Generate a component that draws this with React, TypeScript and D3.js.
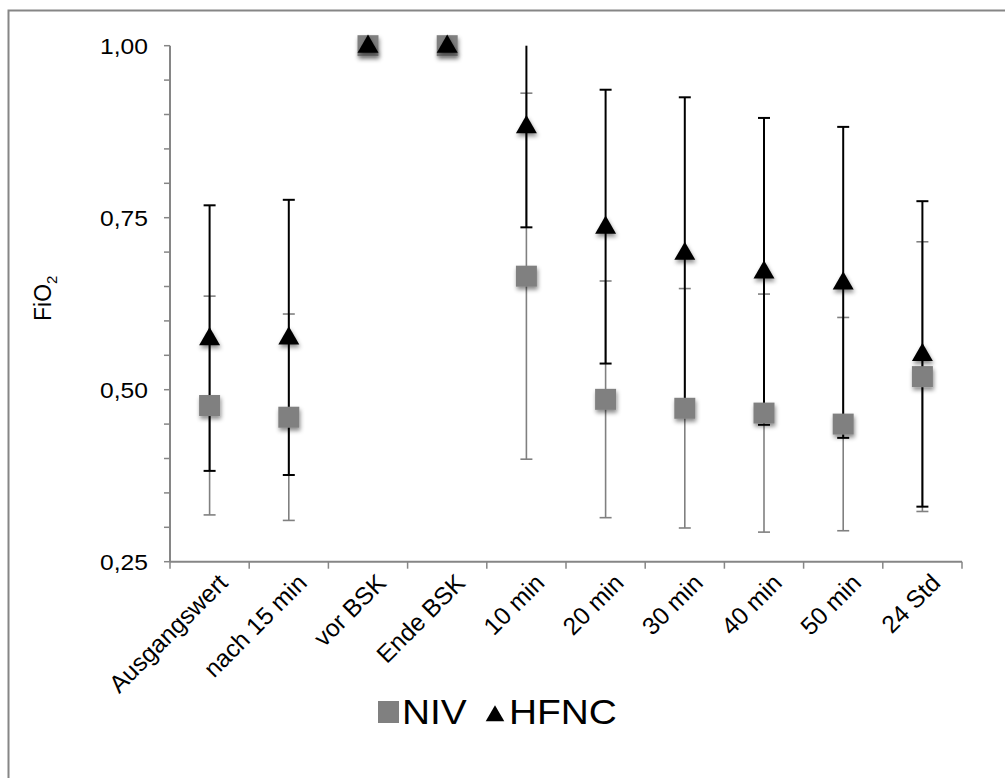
import React from "react";
import * as d3 from "d3";

const categories = [
  "Ausgangswert",
  "nach 15 min",
  "vor BSK",
  "Ende BSK",
  "10 min",
  "20 min",
  "30 min",
  "40 min",
  "50 min",
  "24 Std",
];
const nivMean = [0.477, 0.46, 1.0, 1.0, 0.665, 0.486, 0.473, 0.466, 0.45, 0.519];
const nivSd = [0.159, 0.15, 0, 0, 0.266, 0.172, 0.174, 0.173, 0.155, 0.196];
const hfncMean = [0.575, 0.576, 1.0, 1.0, 0.883, 0.737, 0.699, 0.672, 0.656, 0.552];
const hfncSd = [0.193, 0.2, 0, 0, 0.147, 0.199, 0.226, 0.223, 0.226, 0.222];
const yLabelTicks = [0.25, 0.5, 0.75, 1.0];

const W = 1005;
const H = 778;
const FONT = "'Liberation Sans', Arial, Helvetica, sans-serif";
const AXIS = "#868686";
const GREY = "#808080";

const x = d3.scaleBand<string>().domain(categories).range([170, 962]).padding(0);
const y = d3.scaleLinear().domain([0.25, 1]).range([561.7, 45.7]);
const minorTicks = d3.range(0.25, 1.0001, 0.05);
const fmt = (v: number) => d3.format(".2f")(v).replace(".", ",");

const tri = d3.symbol().type(d3.symbolTriangle).size(190);

// error bar, clipped to axis range (no cap when clipped)
const ErrBar = ({ cx, m, sd, color, w }: any) => {
  if (!sd) return null;
  const [lo, hi] = y.domain();
  const top = Math.min(m + sd, hi);
  const bot = Math.max(m - sd, lo);
  return (
    <g stroke={color} strokeWidth={w}>
      <line x1={cx} x2={cx} y1={y(top)} y2={y(bot)} />
      {m + sd <= hi && <line x1={cx - 6} x2={cx + 6} y1={y(top)} y2={y(top)} />}
      {m - sd >= lo && <line x1={cx - 6} x2={cx + 6} y1={y(bot)} y2={y(bot)} />}
    </g>
  );
};

export default function App() {
  const cx = (i: number) => (x(categories[i]) as number) + x.bandwidth() / 2;

  return (
    <svg
      width={W}
      height={H}
      style={{ position: "absolute", left: 0, top: 0, background: "#fff" }}
      fontFamily={FONT}
    >
      <defs>
        <filter id="shadow" x="-50%" y="-50%" width="200%" height="200%">
          <feDropShadow dx="1" dy="3" stdDeviation="2" floodColor="#000" floodOpacity="0.45" />
        </filter>
      </defs>

      {/* outer frame */}
      <rect x={8.5} y={10.5} width={1100} height={1000} fill="none" stroke={AXIS} strokeWidth={2} />

      {/* y axis */}
      <line x1={170} x2={170} y1={y(1)} y2={y(0.25)} stroke={AXIS} strokeWidth={2} />
      {minorTicks.map((t) => (
        <line key={t} x1={164} x2={170} y1={y(t)} y2={y(t)} stroke={AXIS} strokeWidth={1.5} />
      ))}
      {yLabelTicks.map((t) => (
        <text
          key={t}
          transform={`translate(148,${y(t)}) scale(1.12,1)`}
          dy="0.36em"
          textAnchor="end"
          fontSize={22}
        >
          {fmt(t)}
        </text>
      ))}
      <text transform="translate(51,321) rotate(-90)" fontSize={23}>
        FiO<tspan fontSize={15} dy={6}>2</tspan>
      </text>

      {/* x axis */}
      <line x1={170} x2={962} y1={y(0.25)} y2={y(0.25)} stroke={AXIS} strokeWidth={2} />
      {categories.concat([""]).map((c, i) => {
        const tx = i < categories.length ? (x(c) as number) : x.range()[1];
        return (
          <line key={i} x1={tx} x2={tx} y1={y(0.25)} y2={y(0.25) + 7} stroke={AXIS} strokeWidth={1.5} />
        );
      })}
      {categories.map((c, i) => (
        <text
          key={c}
          transform={`translate(${cx(i) + 7},${572}) rotate(-45)`}
          textAnchor="end"
          dy="0.72em"
          fontSize={24.5}
        >
          {c}
        </text>
      ))}

      {/* error bars */}
      {categories.map((c, i) => (
        <ErrBar key={"n" + c} cx={cx(i)} m={nivMean[i]} sd={nivSd[i]} color={GREY} w={1.6} />
      ))}
      {categories.map((c, i) => (
        <ErrBar key={"h" + c} cx={cx(i)} m={hfncMean[i]} sd={hfncSd[i]} color="#000" w={2} />
      ))}

      {/* markers */}
      {categories.map((c, i) => (
        <rect
          key={"ns" + c}
          x={cx(i) - 10.5}
          y={y(nivMean[i]) - 10.5}
          width={21}
          height={21}
          fill={GREY}
          filter="url(#shadow)"
        />
      ))}
      {categories.map((c, i) => (
        <path
          key={"ht" + c}
          d={tri() as string}
          transform={`translate(${cx(i)},${y(hfncMean[i]) + 1})`}
          fill="#000"
          filter="url(#shadow)"
        />
      ))}

      {/* legend */}
      <rect x={378} y={701} width={21} height={22} fill={GREY} />
      <text transform="translate(402,724) scale(1.08,1)" fontSize={36}>
        NIV
      </text>
      <path d={d3.symbol().type(d3.symbolTriangle).size(150)() as string} transform="translate(495,716)" fill="#000" />
      <text transform="translate(509,724) scale(1.08,1)" fontSize={36}>
        HFNC
      </text>
    </svg>
  );
}
